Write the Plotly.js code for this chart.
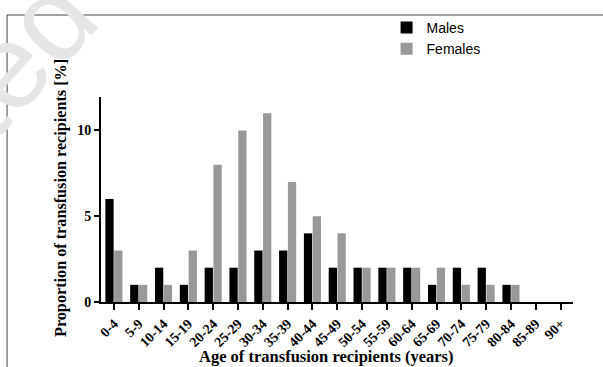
<!DOCTYPE html>
<html>
<head>
<meta charset="utf-8">
<script src="https://cdn.plot.ly/plotly-3.0.1.min.js"></script>
<style>html,body{margin:0;padding:0;background:#fff;}#chart{width:603px;height:367px;}</style>
</head>
<body>
<div id="chart"></div>
<script>
const ageGroups = ["0-4","5-9","10-14","15-19","20-24","25-29","30-34","35-39","40-44","45-49","50-54","55-59","60-64","65-69","70-74","75-79","80-84","85-89","90+"];
const males =   [6,1,2,1,2,2,3,3,4,2,2,2,2,1,2,2,1,0,0];
const females = [3,1,1,3,8,10,11,7,5,4,2,2,2,2,1,1,1,0,0];
const yTicks = [0,5,10];

const serif = "Liberation Serif, Times New Roman, serif";
const traces = [
  {type:"bar", name:"Males", x:ageGroups, y:males, marker:{color:"#000000", line:{width:0}}},
  {type:"bar", name:"Females", x:ageGroups, y:females, marker:{color:"#999999", line:{width:0}}}
];
const layout = {
  width:603, height:367,
  margin:{l:101, r:30, t:97, b:65},
  paper_bgcolor:"#ffffff", plot_bgcolor:"#ffffff",
  barmode:"group", bargap:0.29, bargroupgap:0.06,
  showlegend:true,
  legend:{x:0.605, xanchor:"left", y:1.415, yanchor:"top", bgcolor:"rgba(0,0,0,0)",
          font:{family:"Liberation Sans, Arial, sans-serif", size:14, color:"#000"},
          itemwidth:30, tracegroupgap:2},
  xaxis:{type:"category", range:[-0.52,18.5], showline:true, linecolor:"#000", linewidth:2,
         ticks:"outside", ticklen:6, tickwidth:2, tickcolor:"#000", tickangle:-45,
         tickfont:{family:serif, size:14, color:"#000", weight:"bold"},
         showgrid:false, zeroline:false, fixedrange:true, automargin:false},
  yaxis:{range:[0,11.95], showline:true, linecolor:"#000", linewidth:2,
         ticks:"outside", ticklen:5, tickwidth:2, tickcolor:"#000",
         tickvals:yTicks, ticktext:yTicks.map(String),
         tickfont:{family:serif, size:14, color:"#000", weight:"bold"},
         showgrid:false, zeroline:false, fixedrange:true, automargin:false},
  shapes:[
    {type:"line", xref:"paper", yref:"paper", x0:-0.199, x1:1.1, y0:1.40, y1:1.40, line:{color:"#444", width:1}},
    {type:"line", xref:"paper", yref:"paper", x0:-0.199, x1:-0.199, y0:-0.4, y1:1.40, line:{color:"#444", width:1}}
  ],
  annotations:[
    {xref:"paper", yref:"paper", x:-0.18, y:1.20, xanchor:"center", yanchor:"middle", text:"ted", showarrow:false, textangle:-48,
     font:{family:"Liberation Sans, Arial, sans-serif", size:120, color:"#e6e6e6"}},
    {xref:"paper", yref:"paper", x:(326-101)/472, y:(302-356)/205, xanchor:"center", yanchor:"middle",
     text:"<b>Age of transfusion recipients (years)</b>", showarrow:false,
     font:{family:serif, size:16.5, color:"#000"}},
    {xref:"paper", yref:"paper", x:(61-101)/472, y:(302-198)/205, xanchor:"center", yanchor:"middle",
     text:"<b>Proportion of transfusion recipients [%]</b>", showarrow:false, textangle:-90,
     font:{family:serif, size:16.2, color:"#000"}}
  ]
};
Plotly.newPlot("chart", traces, layout, {displayModeBar:false, staticPlot:true});
</script>
</body>
</html>
